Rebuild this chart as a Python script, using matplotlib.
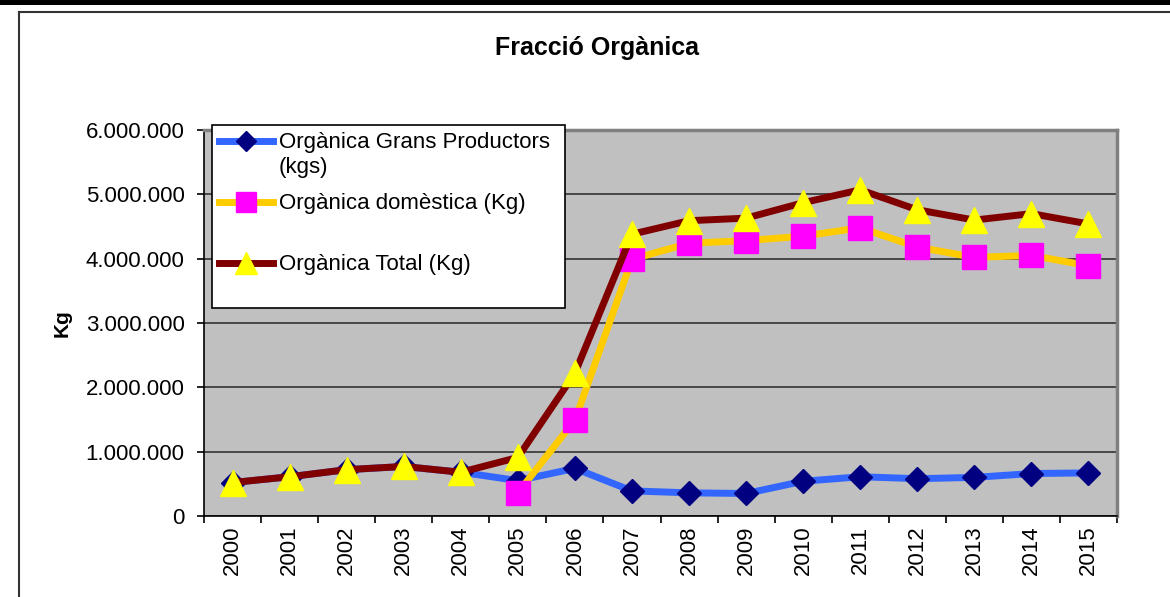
import matplotlib.pyplot as plt
import numpy as np
from matplotlib.lines import Line2D
from matplotlib.patches import Rectangle
from matplotlib.ticker import FuncFormatter, FixedLocator

plt.rcParams['font.family'] = ['Liberation Sans', 'DejaVu Sans']

# data ------------------------------------------------------------------------
years = ['2000', '2001', '2002', '2003', '2004', '2005', '2006', '2007',
         '2008', '2009', '2010', '2011', '2012', '2013', '2014', '2015']
grans_productors = [520000, 610000, 720000, 770000, 680000, 550000, 740000, 390000,
                    360000, 350000, 540000, 610000, 580000, 600000, 660000, 670000]
domestica = [np.nan, np.nan, np.nan, np.nan, np.nan, 360000, 1490000, 3990000,
             4240000, 4280000, 4350000, 4480000, 4180000, 4020000, 4050000, 3890000]
total = [520000, 610000, 720000, 770000, 680000, 910000, 2220000, 4380000,
         4590000, 4630000, 4870000, 5070000, 4760000, 4600000, 4700000, 4540000]

labels = ['Orgànica Grans Productors\n(kgs)', 'Orgànica domèstica (Kg)', 'Orgànica Total (Kg)']

W, H = 1170, 597


def px(x, y):
    # pixel coords (top-left origin) -> figure fraction
    return x / W, 1 - y / H


# estilos de cada serie ---------------------------------------------------------
styles = [
    dict(color='#3366FF', marker='D', markersize=12, markerfacecolor='#000080', markeredgecolor='#000080'),
    dict(color='#FFCC00', marker='s', markersize=17, markerfacecolor='#FF00FF', markeredgecolor='#FF00FF'),
    dict(color='#800000', marker='^', markersize=19, markerfacecolor='#FFFF00', markeredgecolor='#FFFF00'),
]

fig = plt.figure(figsize=(W / 100, H / 100), dpi=100)
ax = fig.add_axes([204 / W, 1 - 516 / H, 913 / W, 386 / H])
ax.set_facecolor('#C0C0C0')

x = np.arange(len(years))
for serie, st in zip([grans_productors, domestica, total], styles):
    ax.plot(x, serie, lw=5, solid_joinstyle='round', **st)

ax.set_xlim(-0.5, len(years) - 0.5)
ax.set_ylim(0, 6000000)
ax.set_yticks(np.arange(0, 6000001, 1000000))
ax.yaxis.set_major_formatter(FuncFormatter(lambda v, p: f'{int(v):,}'.replace(',', '.')))
ax.grid(axis='y', color='#333333', lw=1.2)
ax.set_axisbelow(True)

# ticks entre categorias, etiquetas en el centro
ax.xaxis.set_major_locator(FixedLocator(np.arange(-0.5, len(years), 1)))
ax.xaxis.set_major_formatter(FuncFormatter(lambda v, p: ''))
ax.xaxis.set_minor_locator(FixedLocator(x))
ax.set_xticklabels(years, minor=True, rotation=90, fontsize=16)
ax.tick_params(axis='x', which='major', length=5, width=1.2, color='black')
ax.tick_params(axis='x', which='minor', length=0, pad=7)
ax.tick_params(axis='y', length=5, width=1.2, labelsize=16, pad=9)

for s in ['top', 'right']:
    ax.spines[s].set_color('#808080')
    ax.spines[s].set_linewidth(2.5)
for s in ['left', 'bottom']:
    ax.spines[s].set_color('black')
    ax.spines[s].set_linewidth(1.2)

fig.text(*px(62, 323), 'Kg', rotation=90, fontsize=15, fontweight='bold', ha='center', va='center')
fig.text(*px(597, 48), 'Fracció Orgànica', fontsize=18, fontweight='bold', ha='center', va='center')

# marco del grafico ----------------------------------------------------------
fig.add_artist(Rectangle(px(0, 5), 1, 5 / H, transform=fig.transFigure, color='black', lw=0))
fig.add_artist(Line2D([19 / W, 1], [1 - 12 / H] * 2, transform=fig.transFigure, color='#333333', lw=1.5))
fig.add_artist(Line2D([19 / W] * 2, [1 - 12 / H, 0], transform=fig.transFigure, color='#333333', lw=1.5))

# leyenda manual ---------------------------------------------------------------
x0, y0 = px(212, 308)
x1, y1 = px(565, 125)
fig.add_artist(Rectangle((x0, y0), x1 - x0, y1 - y0, transform=fig.transFigure,
                         facecolor='white', edgecolor='black', lw=1.2, zorder=5))
for yy, lab, st in zip([141, 202, 263], labels, styles):
    fig.add_artist(Line2D([219 / W, 273 / W], [1 - yy / H] * 2, transform=fig.transFigure,
                          lw=5, zorder=6, **dict(st, marker=None)))
    fig.add_artist(Line2D([246 / W], [1 - yy / H], transform=fig.transFigure, lw=0, zorder=7,
                          marker=st['marker'], markersize=st['markersize'] * 0.85,
                          markerfacecolor=st['markerfacecolor'], markeredgecolor=st['markeredgecolor']))
    fig.text(279 / W, 1 - (yy - 9) / H, lab, fontsize=16, ha='left', va='top',
             linespacing=1.25, zorder=7)

fig.savefig('out.png', dpi=100)
